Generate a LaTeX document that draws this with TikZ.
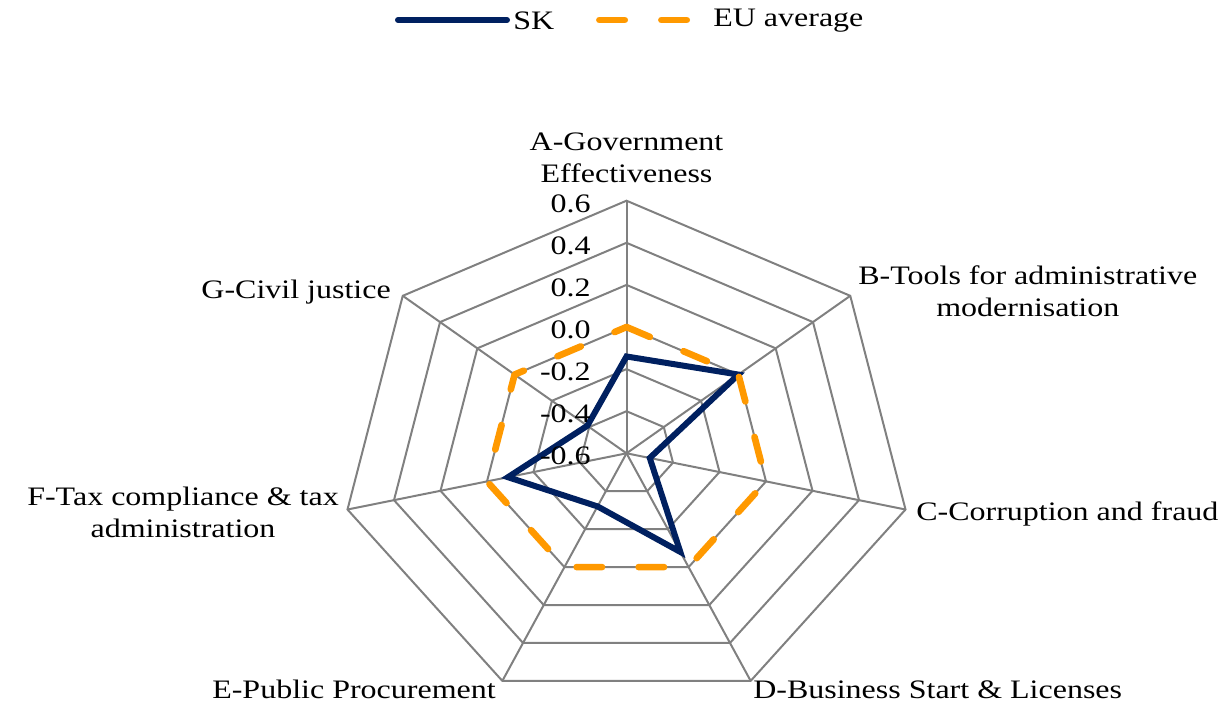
\documentclass[tikz,border=0pt]{standalone}
\usepackage{fontspec}
\setmainfont{Liberation Serif}[FakeStretch=1.2]
\definecolor{skblue}{RGB}{0,32,96}
\definecolor{euorange}{RGB}{255,153,0}
\definecolor{gridgray}{RGB}{128,128,128}

\begin{document}
\begin{tikzpicture}[x=0.75pt,y=0.75pt,yscale=-1,xscale=1,
  gridline/.style={color=gridgray, line width=1.5pt},
  skline/.style={color=skblue, line width=4.5pt, line join=miter},
  euline/.style={color=euorange, line width=5pt, line cap=round, line join=round, dash pattern={on 19pt off 27.5pt}},
  lbl/.style={font=\fontsize{20}{24}\selectfont, inner sep=0.75pt},
  ticklbl/.style={lbl, anchor=east}]
\useasboundingbox (0,0) rectangle (1230,704); %set diagram size 1230 x 704

%Shape: Radar grid, centre of the web at (626.5,453.3)
\begin{scope}[shift={(626.5,453.3)}, xscale=1.133, yscale=-1]
\foreach \k in {1,...,6}
  \draw[gridline] (90:{42.1*\k}) \foreach \i in {1,...,6} { -- ({90-\i*360/7}:{42.1*\k}) } -- cycle;
\foreach \i in {0,...,6}
  \draw[gridline] (0,0) -- ({90-\i*360/7}:252.6);
%data points
\foreach \i in {0,...,6}
  \coordinate (eu\i) at ({90-\i*360/7}:126.3);
\foreach \v [count=\i from 0] in {-0.14,0.0,-0.50,-0.08,-0.32,-0.09,-0.39}
  \coordinate (sk\i) at ({90-\i*360/7}:{(\v+0.6)*210.5});
\end{scope}

%Straight Lines: SK series
\draw[skline] (sk0) -- (sk1) -- (sk2) -- (sk3) -- (sk4) -- (sk5) -- (sk6) -- cycle;
%Straight Lines: EU average series
\draw[euline] (eu0) -- (eu1) -- (eu2) -- (eu3) -- (eu4) -- (eu5) -- (eu6) -- cycle;

% Tick labels
\foreach \t [count=\k from 0] in {-0.6,-0.4,-0.2,0.0,0.2,0.4,0.6}
  \node[ticklbl] (tick\k) at (592,{456.3-42.1*\k}) {\t};

% Text Node
\node[lbl, anchor=south, align=center] (labA) at (626.5,184) {A-Government\\Effectiveness};
% Text Node
\node[lbl, anchor=west, align=center] (labB) at (857,291) {B-Tools for administrative\\modernisation};
% Text Node
\node[lbl, anchor=west] (labC) at (915,514) {C-Corruption and fraud};
% Text Node
\node[lbl, anchor=north west] (labD) at (752,679) {D-Business Start \& Licenses};
% Text Node
\node[lbl, anchor=north east] (labE) at (497,679) {E-Public Procurement};
% Text Node
\node[lbl, anchor=east, align=center] (labF) at (340,512) {F-Tax compliance \& tax\\administration};
% Text Node
\node[lbl, anchor=east] (labG) at (392,292) {G-Civil justice};

% Legend
\draw[skline, line cap=round] (398,20) -- (507,20);
\node[lbl, anchor=west] (legSK) at (512,21) {SK};
\draw[euline] (599.4,20) -- (687,20);
\node[lbl, anchor=west] (legEU) at (712,21) {EU average};

\end{tikzpicture}
\end{document}
